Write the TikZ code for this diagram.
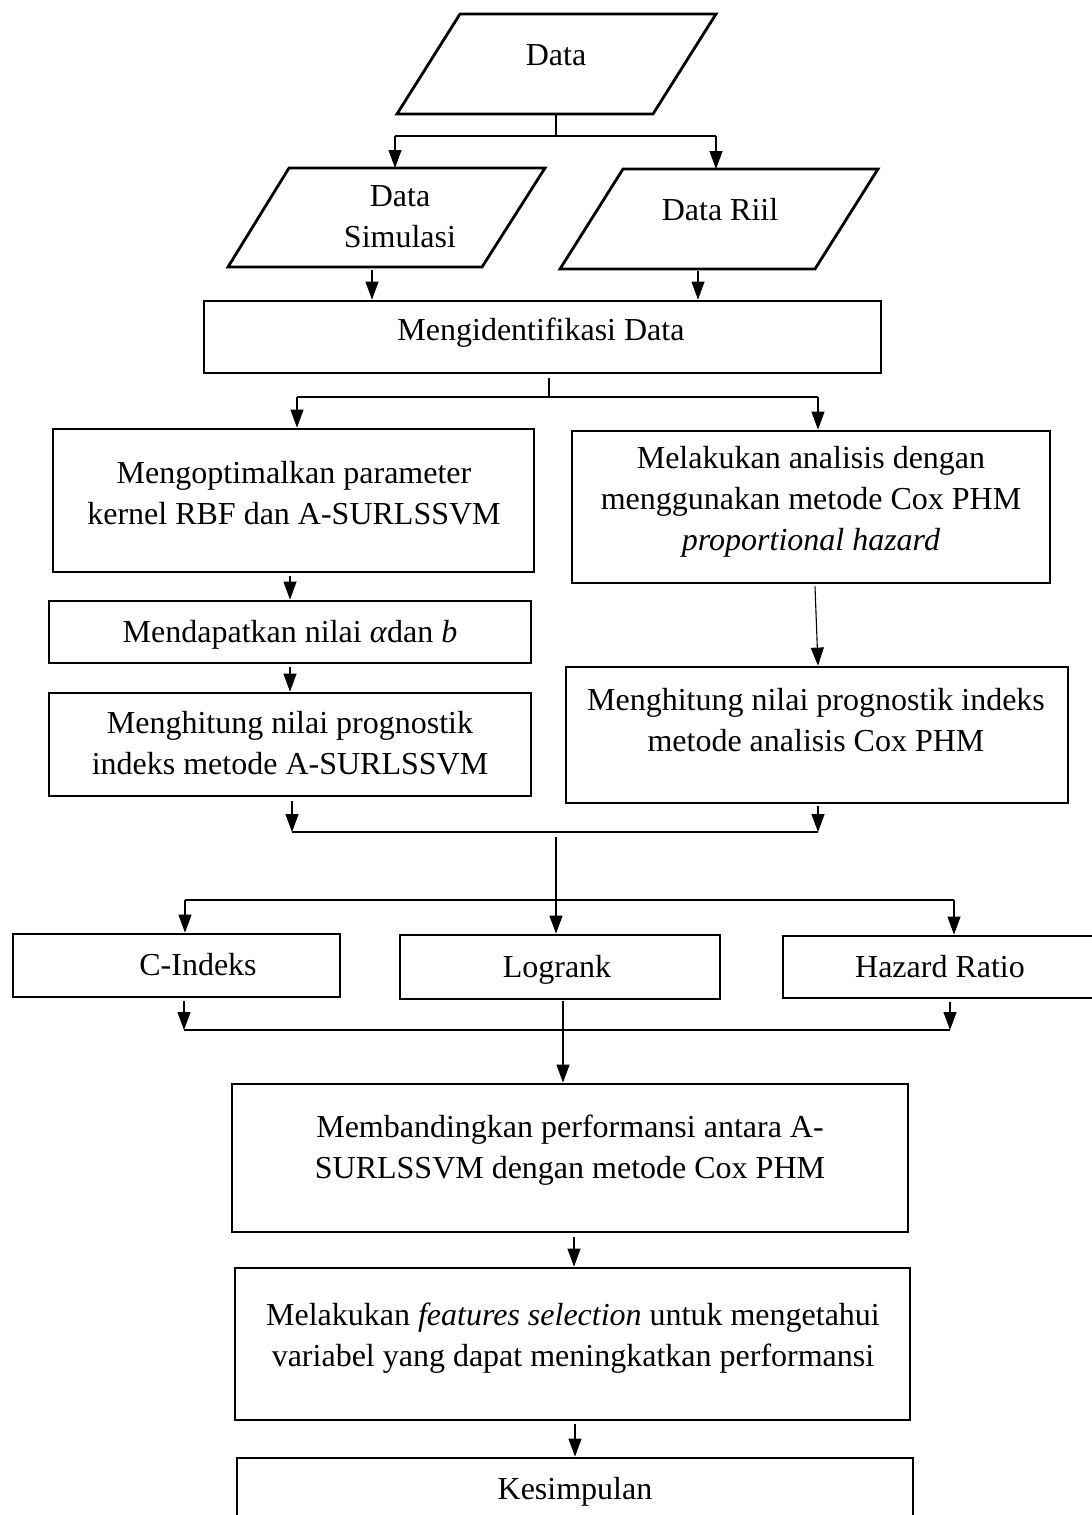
\documentclass[tikz,border=0pt]{standalone}
\usepackage{fontspec}
\setmainfont{Liberation Serif}
\usetikzlibrary{arrows.meta,calc}
\begin{document}
\begin{tikzpicture}[x=1pt,y=-1pt,
  box/.style={draw, line width=2.8pt, rectangle, inner sep=0pt},
  shp/.style={draw, line width=2.8pt, line join=miter},
  txt/.style={font=\fontsize{32}{41}\selectfont, align=center, inner sep=0pt},
  conn/.style={line width=1.1pt},
  arr/.style={line width=1.1pt, -{Triangle[width=13pt,length=18pt]}},
]
\useasboundingbox (0,0) rectangle (1092,1515);
\fill[white] (0,0) rectangle (1092,1515);

% ---------- parallelograms ----------
\draw[shp] (460,14) -- (716,14) -- (653,114) -- (397,114) -- cycle;
\node[txt] (data) at (556,55) {Data};
\draw[shp] (289,168) -- (545,168) -- (482,267) -- (228,267) -- cycle;
\node[txt] (sim) at (400,217) {Data\\Simulasi};
\draw[shp] (623,169) -- (878,169) -- (815,269) -- (560,269) -- cycle;
\node[txt] (riil) at (720,210) {Data Riil};

% ---------- boxes ----------
\node[box, minimum width=677pt, minimum height=72pt] (ident) at (542.5,337) {};
\node[txt] (identT) at (541,333) {Mengidentifikasi Data};

\node[box, minimum width=481pt, minimum height=143pt] (A1) at (293.5,500.5) {};
\node[txt] (A1T) at (294,493) {Mengoptimalkan parameter\\kernel RBF dan A-SURLSSVM};

\node[box, minimum width=482pt, minimum height=62pt] (A2) at (290,632) {};
\node[txt] (A2T) at (290,635) {Mendapatkan nilai \textit{α}dan \textit{b}};

\node[box, minimum width=482pt, minimum height=103pt] (A3) at (290,744.5) {};
\node[txt] (A3T) at (290,743) {Menghitung nilai prognostik\\indeks metode A-SURLSSVM};

\node[box, minimum width=478pt, minimum height=152pt] (B1) at (811,507) {};
\node[txt] (B1T) at (811,502) {Melakukan analisis dengan\\menggunakan metode Cox PHM\\\textit{proportional hazard}};

\node[box, minimum width=502pt, minimum height=136pt] (B2) at (817,735) {};
\node[txt] (B2T) at (816,720) {Menghitung nilai prognostik indeks\\metode analisis Cox PHM};

\node[box, minimum width=327pt, minimum height=63pt] (C) at (176.5,965.5) {};
\node[txt] (CT) at (198,965) {C-Indeks};
\node[box, minimum width=320pt, minimum height=64pt] (L) at (560,967) {};
\node[txt] (LT) at (557,970) {Logrank};
\node[box, minimum width=327pt, minimum height=62pt] (H) at (946.5,967) {};
\node[txt] (HT) at (940,967) {Hazard Ratio};

\node[box, minimum width=676pt, minimum height=148pt] (D) at (570,1158) {};
\node[txt] (DT) at (570,1150) {Membandingkan performansi antara A-\\SURLSSVM dengan metode Cox PHM};

\node[box, minimum width=675pt, minimum height=152pt] (E) at (572.5,1344) {};
\node[txt] (ET) at (573,1338) {Melakukan \textit{features selection} untuk mengetahui\\variabel yang dapat meningkatkan performansi};

\node[box, minimum width=676pt, minimum height=82pt] (F) at (575,1499) {};
\node[txt] (FT) at (575,1492) {Kesimpulan};

% ---------- connectors ----------
\coordinate (dataB) at (556,114);
\coordinate (bus1) at (556,136);
\coordinate (b1L) at (395,136);
\coordinate (b1R) at (716,136);
\coordinate (simT) at (395,168);
\coordinate (riilT) at (716,169);
\draw[conn] (dataB) -- (bus1);
\draw[conn] (b1L) -- (b1R);
\draw[arr] (b1L) -- (simT);
\draw[arr] (b1R) -- (riilT);

\coordinate (simB) at (372,270);
\coordinate (riilB) at (698,271);
\draw[arr] (simB) -- (ident.north -| simB);
\draw[arr] (riilB) -- (ident.north -| riilB);

\coordinate (b2) at (549,397);
\coordinate (b2L) at (297,397);
\coordinate (b2R) at (818,397);
\draw[conn] ($(ident.south -| b2)+(0,4)$) -- (b2);
\draw[conn] (b2L) -- (b2R);
\draw[arr] (b2L) -- (A1.north -| b2L);
\draw[arr] (b2R) -- (B1.north -| b2R);

\coordinate (xA) at (290,0);
\draw[arr] ($(A1.south -| xA)+(0,3)$) -- (A2.north -| xA);
\draw[arr] ($(A2.south -| xA)+(0,3)$) -- (A3.north -| xA);

\coordinate (xB1) at (815,0);
\coordinate (xB2) at (818,0);
\draw[arr] ($(B1.south -| xB1)+(0,2)$) -- (B2.north -| xB2);

\coordinate (b3L) at (292,832);
\coordinate (b3R) at (818,832);
\draw[arr] ($(A3.south -| b3L)+(0,4)$) -- (b3L);
\draw[arr] ($(B2.south -| b3R)+(0,2)$) -- (b3R);
\draw[conn] (b3L) -- (b3R);

\coordinate (c3) at (556,837);
\draw[arr] (c3) -- (L.north -| c3);
\coordinate (b4L) at (185,900);
\coordinate (b4R) at (954,900);
\draw[conn] (b4L) -- (b4R);
\draw[arr] (b4L) -- (C.north -| b4L);
\draw[arr] (b4R) -- (H.north -| b4R);

\coordinate (b5L) at (184,1030);
\coordinate (b5R) at (950,1030);
\draw[arr] ($(C.south -| b5L)+(0,3)$) -- (b5L);
\draw[arr] ($(H.south -| b5R)+(0,3)$) -- (b5R);
\draw[conn] (b5L) -- (b5R);

\coordinate (xL) at (563,0);
\draw[arr] ($(L.south -| xL)+(0,1)$) -- (D.north -| xL);
\coordinate (xD) at (574,0);
\draw[arr] ($(D.south -| xD)+(0,4)$) -- (E.north -| xD);
\coordinate (xE) at (575,0);
\draw[arr] ($(E.south -| xE)+(0,3)$) -- (F.north -| xE);
\end{tikzpicture}
\end{document}
